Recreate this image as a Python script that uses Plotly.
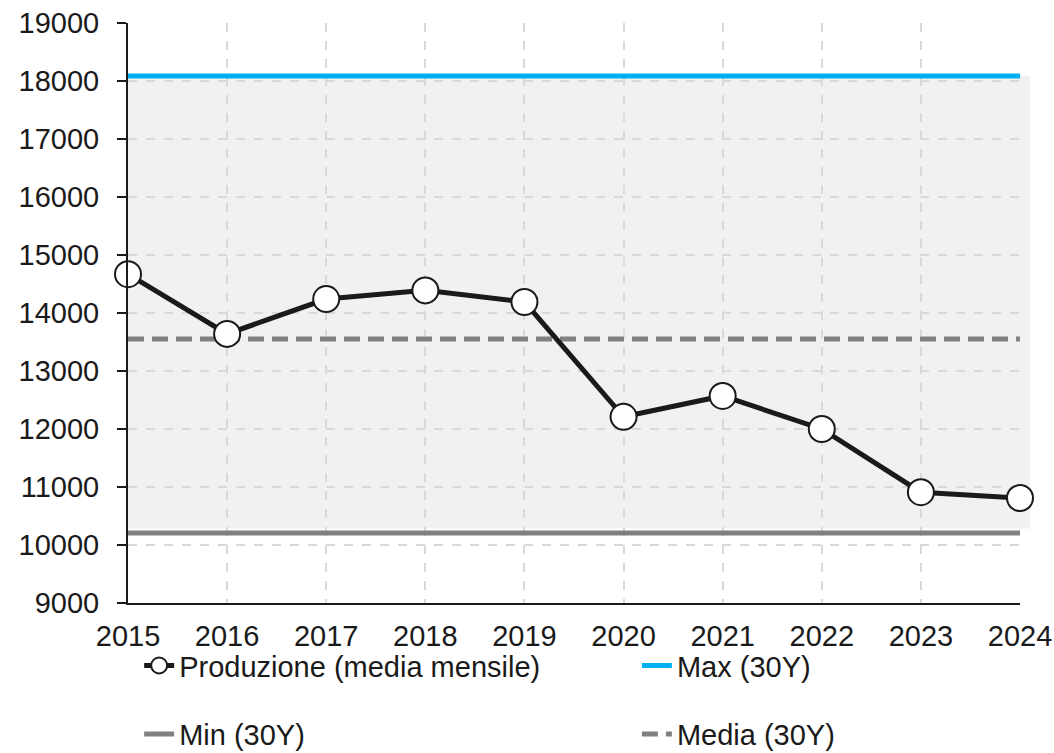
import plotly.graph_objects as go

years = [2015, 2016, 2017, 2018, 2019, 2020, 2021, 2022, 2023, 2024]
produzione = [14670, 13640, 14240, 14390, 14190, 12210, 12570, 12000, 10910, 10810]
max_30y = 18085
min_30y = 10205
media_30y = 13550

y_min, y_max = 9000, 19000
y_ticks = list(range(9000, 19001, 1000))

FONT = "Liberation Sans, Arial, sans-serif"
TXT = "#1a1a1a"
FS = 29

fig = go.Figure()

# band between min and max (extends slightly beyond last year)
fig.add_shape(type="rect", xref="x domain", yref="y domain",
              x0=0, x1=1.011,
              y0=(min_30y + 80 - y_min) / (y_max - y_min),
              y1=(max_30y - y_min) / (y_max - y_min),
              fillcolor="#f1f1f1", line_width=0, layer="below")

fig.add_trace(go.Scatter(x=[years[0], years[-1]], y=[max_30y, max_30y], name="Max (30Y)",
                         mode="lines", line=dict(color="#00b0f0", width=5), legend="legend2"))
fig.add_trace(go.Scatter(x=[years[0], years[-1]], y=[min_30y, min_30y], name="Min (30Y)",
                         mode="lines", line=dict(color="#808080", width=5), legend="legend3"))
fig.add_trace(go.Scatter(x=[years[0], years[-1]], y=[media_30y, media_30y], name="Media (30Y)",
                         mode="lines", line=dict(color="#808080", width=5, dash="16px,8px"),
                         legend="legend4"))
fig.add_trace(go.Scatter(x=years, y=produzione, name="Produzione (media mensile)",
                         mode="lines+markers", cliponaxis=False,
                         line=dict(color="#1a1a1a", width=5),
                         marker=dict(size=26, color="white", line=dict(color="#1a1a1a", width=2)),
                         legend="legend"))

legend_common = dict(orientation="h", xanchor="left", yanchor="middle",
                     font=dict(family=FONT, size=FS, color=TXT),
                     bgcolor="rgba(0,0,0,0)")

row1, row2 = -0.108, -0.226
col1, col2 = 0.0125, 0.5705

fig.update_layout(
    width=1054, height=753,
    margin=dict(l=128, r=34, t=23, b=150, autoexpand=False),
    paper_bgcolor="white", plot_bgcolor="white",
    font=dict(family=FONT, size=FS, color=TXT),
    showlegend=True,
    legend=dict(x=col1, y=row1, **legend_common),
    legend2=dict(x=col2, y=row1, **legend_common),
    legend3=dict(x=col1, y=row2, **legend_common),
    legend4=dict(x=col2, y=row2, **legend_common),
    xaxis=dict(range=[years[0], years[-1]], tickvals=years, ticktext=[str(y) for y in years],
               showline=True, linecolor="#1a1a1a", linewidth=2, ticks="",
               showgrid=True, gridcolor="#d9d9d9", griddash="dash", gridwidth=1.5,
               zeroline=False, tickfont=dict(family=FONT, size=FS, color=TXT), ticklabelstandoff=6),
    yaxis=dict(range=[y_min, y_max], tickvals=y_ticks, ticktext=[str(t) for t in y_ticks],
               showline=True, linecolor="#1a1a1a", linewidth=2, ticks="outside", ticklen=9,
               tickwidth=2, tickcolor="#1a1a1a", ticklabelstandoff=12,
               showgrid=True, gridcolor="#d9d9d9", griddash="dash", gridwidth=1.5,
               zeroline=False, tickfont=dict(family=FONT, size=FS, color=TXT)),
)

fig.write_html("out.html", config={"displayModeBar": False},
               post_script="document.body.style.margin='0';document.body.style.overflow='hidden';")
